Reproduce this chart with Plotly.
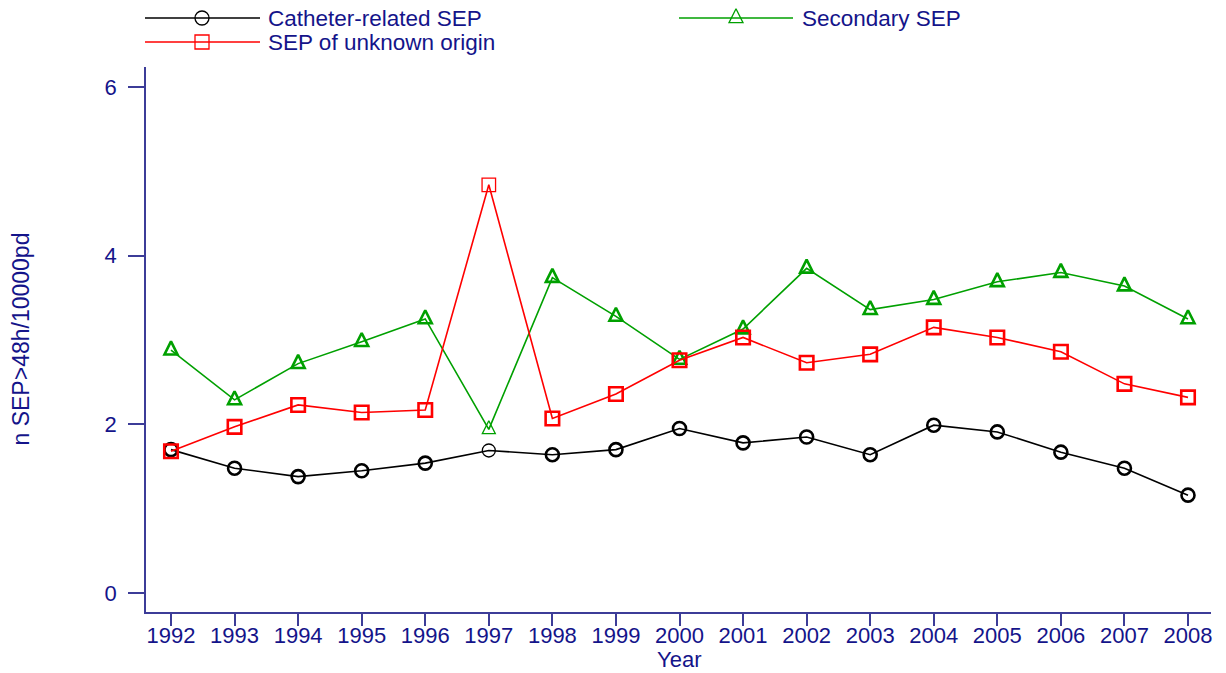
import plotly.graph_objects as go

# ---- data -------------------------------------------------------------
years = list(range(1992, 2009))
catheter_related = [1.70, 1.48, 1.38, 1.45, 1.54, 1.69, 1.64, 1.70, 1.95,
                    1.78, 1.85, 1.64, 1.99, 1.91, 1.67, 1.48, 1.16]
secondary = [2.88, 2.29, 2.72, 2.98, 3.25, 1.94, 3.74, 3.28, 2.77,
             3.13, 3.85, 3.36, 3.48, 3.69, 3.80, 3.64, 3.25]
unknown_origin = [1.68, 1.97, 2.23, 2.14, 2.17, 4.84, 2.07, 2.36, 2.76,
                  3.03, 2.73, 2.83, 3.15, 3.03, 2.86, 2.48, 2.32]
y_ticks = [0, 2, 4, 6]
series_names = ["Catheter-related SEP", "Secondary SEP", "SEP of unknown origin"]

# ---- styling ------------------------------------------------------------
W, H = 1226, 673
FONT = "Liberation Sans, Arial, sans-serif"
TEXT = "#14148a"
AXIS = "#3c3c98"
BLACK, GREEN, RED = "#000000", "#00a000", "#ff0000"

# plot area in pixels
PX_L, PX_R, PX_T, PX_B = 146, 1211, 67, 612

def mwidths(xs):
    # 1997 markers are drawn with a lighter outline
    return [1.3 if x == 1997 else 2.6 for x in xs]

def marker_style(sym, size, color, width):
    """Open marker; the triangle is an upright arrowhead centred on its centroid."""
    m = dict(symbol=sym, size=size, color=color, line=dict(color=color, width=width))
    if sym == "triangle":
        m.update(symbol="arrow-down-open", angle=180, standoff=size * 2 / 3)
    return m

series = [
    (series_names[0], catheter_related, BLACK, "circle-open", 13),
    (series_names[1], secondary, GREEN, "triangle", 13),
    (series_names[2], unknown_origin, RED, "square-open", 13.5),
]

fig = go.Figure()
for name, vals, color, sym, size in series:
    fig.add_trace(go.Scatter(
        x=years, y=vals, mode="lines+markers", name=name,
        line=dict(color=color, width=1.6),
        marker=marker_style(sym, size, color, mwidths(years)),
        showlegend=False, xaxis="x", yaxis="y",
    ))

# ---- legend drawn on a pixel-space overlay -----------------------------
legend_rows = [
    # name, color, symbol, size, line x0, marker x, line x1, text x, y
    (series_names[0], BLACK, "circle-open", 14, 145, 202, 260, 266, 18),
    (series_names[1], GREEN, "triangle", 14, 679, 736, 793, 800, 18),
    (series_names[2], RED, "square-open", 14, 145, 202, 260, 266, 42),
]
annotations = []
for name, color, sym, size, x0, xm, x1, xt, yy in legend_rows:
    fig.add_trace(go.Scatter(
        x=[x0, x1], y=[yy, yy], mode="lines", line=dict(color=color, width=1.5),
        showlegend=False, hoverinfo="skip", xaxis="x2", yaxis="y2"))
    fig.add_trace(go.Scatter(
        x=[xm], y=[yy], mode="markers",
        marker=marker_style(sym, size, color, 1.3),
        showlegend=False, hoverinfo="skip", xaxis="x2", yaxis="y2"))
    annotations.append(dict(
        x=xt, y=yy, xref="x2", yref="y2", text=name, showarrow=False,
        xanchor="left", yanchor="middle",
        font=dict(family=FONT, size=22.5, color=TEXT)))

# axis titles
annotations.append(dict(
    x=20, y=(PX_T + PX_B) / 2, xref="x2", yref="y2", text="n SEP>48h/10000pd",
    textangle=-90, showarrow=False, xanchor="center", yanchor="middle",
    font=dict(family=FONT, size=23, color=TEXT)))
annotations.append(dict(
    x=(PX_L + PX_R) / 2, y=659, xref="x2", yref="y2", text="Year",
    showarrow=False, xanchor="center", yanchor="middle",
    font=dict(family=FONT, size=22, color=TEXT)))

# data-axis ranges so that 1992/2008 and 0/6 land at their pixel positions
x_first_px, x_last_px = 171, 1188
per_year = (x_last_px - x_first_px) / (years[-1] - years[0])
x_range = [years[0] - (x_first_px - PX_L) / per_year,
           years[-1] + (PX_R - x_last_px) / per_year]
y0_px, y6_px = 593, 87
per_unit = (y0_px - y6_px) / 6
y_range = [-(PX_B - y0_px) / per_unit, 6 + (y6_px - PX_T) / per_unit]

fig.update_layout(
    width=W, height=H,
    margin=dict(l=0, r=0, t=0, b=0),
    paper_bgcolor="white", plot_bgcolor="rgba(0,0,0,0)",
    showlegend=False,
    font=dict(family=FONT, color=TEXT),
    xaxis=dict(
        domain=[PX_L / W, PX_R / W], anchor="y",
        range=x_range, tickmode="array", tickvals=years,
        ticktext=[str(y) for y in years],
        ticks="outside", ticklen=12, tickwidth=1.5, tickcolor=AXIS,
        showline=True, linecolor=AXIS, linewidth=1.5,
        showgrid=False, zeroline=False, ticklabelstandoff=-9,
        tickfont=dict(family=FONT, size=22, color=TEXT),
    ),
    yaxis=dict(
        domain=[(H - PX_B) / H, (H - PX_T) / H], anchor="x",
        range=y_range, tickmode="array", tickvals=y_ticks,
        ticks="outside", ticklen=16, tickwidth=1.5, tickcolor=AXIS,
        showline=True, linecolor=AXIS, linewidth=1.5,
        showgrid=False, zeroline=False, ticklabelstandoff=7,
        tickfont=dict(family=FONT, size=22, color=TEXT),
    ),
    xaxis2=dict(domain=[0, 1], anchor="y2", range=[0, W], visible=False,
                fixedrange=True),
    yaxis2=dict(domain=[0, 1], anchor="x2", range=[H, 0], visible=False,
                fixedrange=True),
    annotations=annotations,
)

fig.write_html("out.html")
